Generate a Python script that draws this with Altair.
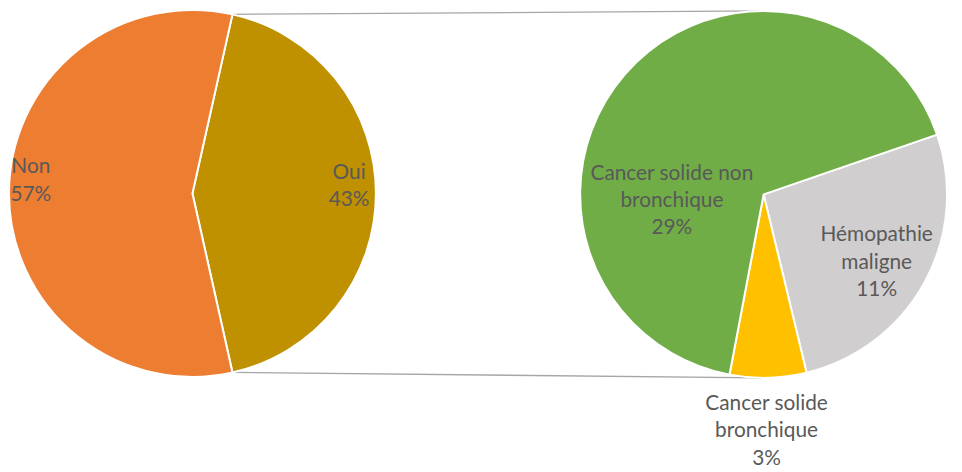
import math
import altair as alt
import pandas as pd

# ---------------- data ----------------
main_cats = ["Oui", "Non"]
main_vals = [43, 57]
main_colors = ["#BF9000", "#ED7D31"]

sub_cats = ["Hémopathie maligne", "Cancer solide bronchique", "Cancer solide non bronchique"]
sub_vals = [11.4, 2.9, 28.7]
sub_colors = ["#D0CECE", "#FFC000", "#70AD47"]
sub_label_lines = [["Hémopathie", "maligne"], ["Cancer solide", "bronchique"], ["Cancer solide non", "bronchique"]]

# ---------------- layout ----------------
OFF = 8
W, H = 954, 464
R = 185
LC = (194 - OFF, 193 - OFF)
RC = (770 - OFF, 194 - OFF)
left_start = 90 - main_vals[0] / sum(main_vals) * 360 / 2
right_start = 71.0
FONT = "Lato"
FSIZE = 21
LH = 27.5
TCOL = "#595959"
# label block centres (image coordinates)
main_label_at = {"Oui": (352, 186), "Non": (31, 180.5)}
sub_label_at = {"Hémopathie maligne": (884, 263), "Cancer solide bronchique": (773, 433),
                "Cancer solide non bronchique": (677.5, 200.5)}


def rad(d):
    return d * math.pi / 180


def pie(cats, vals, colors, centre, start):
    df = pd.DataFrame({"cat": cats, "value": vals, "ord": list(range(len(cats)))})
    return alt.Chart(df).mark_arc(radius=R, stroke="white", strokeWidth=2).encode(
        x=alt.value(centre[0]),
        y=alt.value(centre[1]),
        theta=alt.Theta("value:Q", stack=True,
                        scale=alt.Scale(domain=[0, sum(vals)],
                                        range=[rad(start), rad(start) + 2 * math.pi])),
        order=alt.Order("ord:Q"),
        color=alt.Color("cat:N", scale=alt.Scale(domain=cats, range=colors), legend=None),
    )


def label(text, pos):
    n = text.count("\n") + 1
    y_first = pos[1] - (n - 1) * LH / 2
    return alt.Chart(alt.Data(values=[{}])).mark_text(
        lineBreak="\n", align="center", baseline="middle", font=FONT, fontSize=FSIZE,
        color=TCOL, lineHeight=LH,
    ).encode(x=alt.value(pos[0] - OFF), y=alt.value(y_first - OFF), text=alt.value(text))


def edge_point(centre, ang):
    return (centre[0] + R * math.sin(rad(ang)), centre[1] - R * math.cos(rad(ang)))


def tangent(p, c, top=True):
    dx, dy = p[0] - c[0], p[1] - c[1]
    d = math.hypot(dx, dy)
    phi = math.atan2(dy, dx)
    a = math.acos(R / d)
    pts = [(c[0] + R * math.cos(phi + s * a), c[1] + R * math.sin(phi + s * a)) for s in (1, -1)]
    return min(pts, key=lambda q: q[1]) if top else max(pts, key=lambda q: q[1])


split_end = left_start + main_vals[0] / sum(main_vals) * 360
p_top = edge_point(LC, left_start)
p_bot = edge_point(LC, split_end)
t_top = tangent(p_top, RC, True)
t_bot = tangent(p_bot, RC, False)


def connector(a, b):
    return alt.Chart(alt.Data(values=[{}])).mark_rule(color="#A6A6A6", strokeWidth=1.3).encode(
        x=alt.value(a[0]), y=alt.value(a[1]), x2=alt.value(b[0]), y2=alt.value(b[1]))


layers = [connector(p_top, t_top), connector(p_bot, t_bot),
          pie(main_cats, main_vals, main_colors, LC, left_start),
          pie(sub_cats, sub_vals, sub_colors, RC, right_start)]

for c, v in zip(main_cats, main_vals):
    layers.append(label(f"{c}\n{round(v)}%", main_label_at[c]))
for c, v, lines in zip(sub_cats, sub_vals, sub_label_lines):
    layers.append(label("\n".join(lines + [f"{round(v)}%"]), sub_label_at[c]))

chart = alt.layer(*layers).resolve_scale(theta="independent", color="independent").properties(
    width=W, height=H, padding=0, autosize="none"
).configure_view(stroke=None)

chart.save("out.html", embed_options={"renderer": "svg", "actions": False})
